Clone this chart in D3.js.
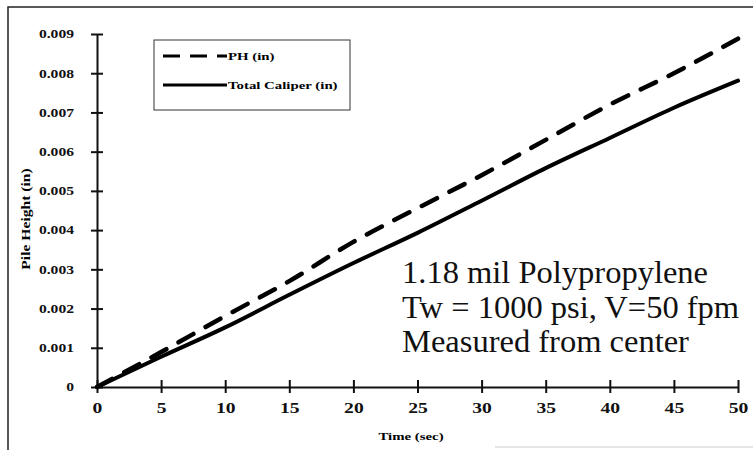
<!DOCTYPE html>
<html>
<head>
<meta charset="utf-8">
<script src="https://cdn.jsdelivr.net/npm/d3@7"></script>
<style>
  body { margin: 0; background: #fff; }
</style>
</head>
<body>
<script>
// data
let times = [0, 5, 10, 15, 20, 25, 30, 35, 40, 45, 50]
let pileHeight = [0, 0.00089, 0.00181, 0.0027, 0.0037, 0.00456, 0.0054, 0.0063, 0.0072, 0.0080, 0.00888]
let totalCaliper = [0, 0.00077, 0.00152, 0.00235, 0.00316, 0.00393, 0.00475, 0.00558, 0.00635, 0.00712, 0.00781]
let xTicks = [0, 5, 10, 15, 20, 25, 30, 35, 40, 45, 50]
let yTicks = [0, 0.001, 0.002, 0.003, 0.004, 0.005, 0.006, 0.007, 0.008, 0.009]
let seriesNames = ["PH (in)", "Total Caliper (in)"]
let noteLines = ["1.18 mil Polypropylene", "Tw = 1000 psi, V=50 fpm", "Measured from center"]

let serif = "'Liberation Serif', 'Times New Roman', Times, 'DejaVu Serif', serif"

let width = 753,
    height = 450

let svg = d3.select("body").append("svg")
    .attr("width", width)
    .attr("height", height)
    .style("font-family", serif)

// scanned page frame
svg.append("path")
    .attr("d", "M8,450 L8,7 L753,7")
    .attr("fill", "none")
    .attr("stroke", "#222")
    .attr("stroke-width", 1.5)
svg.append("line")
    .attr("x1", 495).attr("x2", 753)
    .attr("y1", 447).attr("y2", 447)
    .attr("stroke", "#ccc")
    .attr("stroke-width", 1)

let x = d3.scaleLinear().domain([0, 50]).range([97, 738])
let y = d3.scaleLinear().domain([0, 0.009]).range([387, 34])

// y axis
let sx = 1.3
let yAxis = svg.append("g")
    .attr("transform", "translate(" + x(0) + ",0)")
    .call(d3.axisLeft(y).tickValues(yTicks).tickSize(6).tickSizeOuter(0)
        .tickFormat(d => d === 0 ? "0" : d3.format(".3f")(d)))
    .attr("font-family", null)
yAxis.select(".domain").attr("stroke", "#111").attr("stroke-width", 2)
yAxis.selectAll(".tick line").attr("x1", 6).attr("x2", -6)
    .attr("stroke", "#111").attr("stroke-width", 2)
yAxis.selectAll(".tick text")
    .attr("x", -23 / sx)
    .attr("transform", "scale(" + sx + ",1)")
    .attr("fill", "#111")
    .style("font-family", serif)
    .style("font-size", "12px")
    .style("font-weight", "bold")

// x axis
let sxx = 1.4
let xAxis = svg.append("g")
    .attr("transform", "translate(0," + y(0) + ")")
    .call(d3.axisBottom(x).tickValues(xTicks).tickSize(6).tickSizeOuter(0))
    .attr("font-family", null)
xAxis.select(".domain").attr("stroke", "#111").attr("stroke-width", 2)
xAxis.selectAll(".tick line").attr("y1", -7).attr("y2", 6)
    .attr("stroke", "#111").attr("stroke-width", 2)
xAxis.selectAll(".tick text")
    .attr("y", 16)
    .attr("transform", "scale(" + sxx + ",1)")
    .attr("fill", "#111")
    .style("font-family", serif)
    .style("font-size", "14px")
    .style("font-weight", "bold")

// axis titles
svg.append("text")
    .attr("transform", "translate(411,440) scale(1.35,1)")
    .attr("text-anchor", "middle")
    .style("font-family", serif)
    .style("font-size", "11px")
    .style("font-weight", "bold")
    .text("Time (sec)")
svg.append("text")
    .attr("transform", "translate(30,219) rotate(-90) scale(1.3,1)")
    .attr("text-anchor", "middle")
    .style("font-family", serif)
    .style("font-size", "12px")
    .style("font-weight", "bold")
    .text("Pile Height (in)")

// series
let line = d3.line().curve(d3.curveMonotoneX)
let phPts = times.map((t, i) => [x(t), y(pileHeight[i])])
let tcPts = times.map((t, i) => [x(t), y(totalCaliper[i])])

svg.append("path")
    .attr("d", line(tcPts))
    .attr("fill", "none")
    .attr("stroke", "#000")
    .attr("stroke-width", 4)
    .attr("stroke-linecap", "round")
svg.append("path")
    .attr("d", line(phPts))
    .attr("fill", "none")
    .attr("stroke", "#000")
    .attr("stroke-width", 4.5)
    .attr("stroke-dasharray", "17,14")
    .attr("stroke-linecap", "round")

// legend
let legend = svg.append("g")
legend.append("rect")
    .attr("x", 154).attr("y", 40)
    .attr("width", 196).attr("height", 70)
    .attr("fill", "none")
    .attr("stroke", "#333")
    .attr("stroke-width", 1)
legend.append("line")
    .attr("x1", 163).attr("x2", 227).attr("y1", 56).attr("y2", 56)
    .attr("stroke", "#000").attr("stroke-width", 3)
    .attr("stroke-dasharray", "17,10")
legend.append("line")
    .attr("x1", 163).attr("x2", 227).attr("y1", 85).attr("y2", 85)
    .attr("stroke", "#000").attr("stroke-width", 3)
seriesNames.forEach((name, i) => {
    legend.append("text")
        .attr("transform", "translate(228," + (60 + i * 29) + ") scale(1.35,1)")
        .style("font-family", serif)
        .style("font-size", "11px")
        .style("font-weight", "bold")
        .text(name)
})

// annotation
noteLines.forEach((s, i) => {
    svg.append("text")
        .attr("x", 402)
        .attr("y", 283 + i * 34.5)
        .style("font-family", serif)
        .style("font-size", "32.5px")
        .attr("fill", "#111")
        .text(s)
})
</script>
</body>
</html>
